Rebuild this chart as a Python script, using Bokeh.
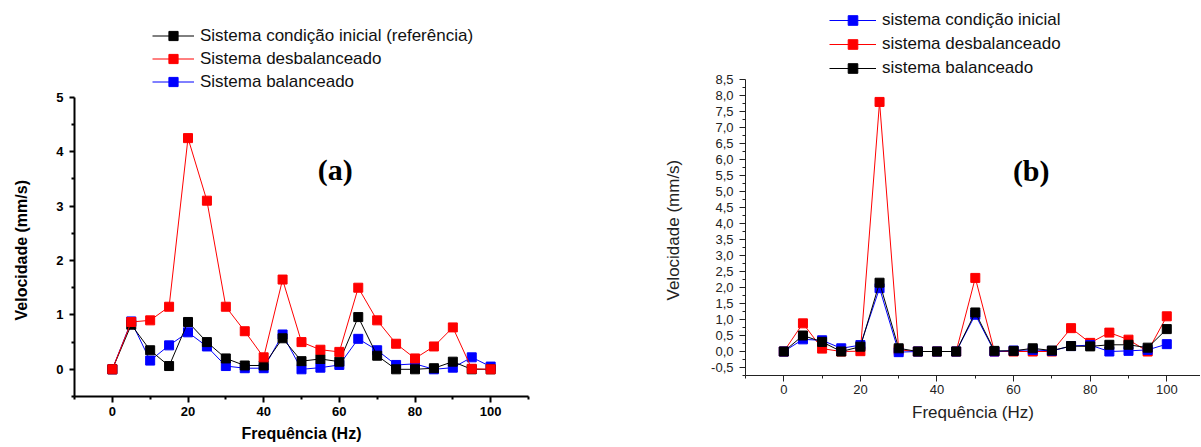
from bokeh.plotting import figure
from bokeh.layouts import row
from bokeh.models import (Range1d, FixedTicker, Legend, LegendItem, Label, Title,
                          CustomJSTickFormatter, LinearAxis)
from bokeh.embed import file_html
from bokeh.resources import INLINE

# ---------------- data ----------------
freq = [0, 5, 10, 15, 20, 25, 30, 35, 40, 45, 50, 55, 60, 65, 70, 75, 80, 85, 90, 95, 100]

# chart (a)
a_ref = [0.00, 0.82, 0.35, 0.06, 0.87, 0.50, 0.20, 0.07, 0.07, 0.57, 0.15,
         0.19, 0.14, 0.96, 0.25, 0.00, 0.00, 0.02, 0.14, 0.00, 0.00]
a_desb = [0.00, 0.87, 0.90, 1.15, 4.25, 3.10, 1.15, 0.70, 0.22, 1.65, 0.50,
          0.36, 0.32, 1.50, 0.90, 0.47, 0.20, 0.42, 0.77, 0.01, 0.00]
a_bal = [0.00, 0.88, 0.16, 0.44, 0.68, 0.42, 0.06, 0.02, 0.02, 0.64, 0.00,
         0.03, 0.08, 0.56, 0.35, 0.08, 0.10, 0.00, 0.03, 0.22, 0.05]

# chart (b)
b_ini = [0.00, 0.38, 0.35, 0.10, 0.20, 1.98, -0.02, 0.00, 0.00, 0.00, 1.15,
         0.00, 0.03, 0.05, 0.02, 0.17, 0.20, 0.00, 0.02, 0.05, 0.23]
b_desb = [0.00, 0.88, 0.09, 0.00, 0.01, 7.80, 0.05, 0.00, 0.00, 0.00, 2.30,
          0.00, 0.00, 0.00, 0.00, 0.73, 0.27, 0.59, 0.37, 0.00, 1.10]
b_bal = [0.00, 0.50, 0.30, 0.00, 0.15, 2.15, 0.10, 0.00, 0.00, 0.00, 1.22,
         0.02, 0.02, 0.10, 0.03, 0.17, 0.16, 0.21, 0.21, 0.12, 0.70]

labels_a = ["Sistema condição inicial (referência)", "Sistema desbalanceado", "Sistema balanceado"]
labels_b = ["sistema condição inicial", "sistema desbalanceado", "sistema balanceado"]

a_x_ticks = [0, 20, 40, 60, 80, 100]
a_x_minor = [-10, 10, 30, 50, 70, 90, 110]
a_y_ticks = [0, 1, 2, 3, 4, 5]
a_y_minor = [-0.5, 0.5, 1.5, 2.5, 3.5, 4.5]

b_x_ticks = [0, 20, 40, 60, 80, 100]
b_x_minor = [-10, 10, 30, 50, 70, 90, 110]
b_y_ticks = [-0.5, 0.0, 0.5, 1.0, 1.5, 2.0, 2.5, 3.0, 3.5, 4.0, 4.5, 5.0, 5.5,
             6.0, 6.5, 7.0, 7.5, 8.0, 8.5]
b_y_minor = [-0.75, -0.25, 0.25, 0.75, 1.25, 1.75, 2.25, 2.75, 3.25, 3.75, 4.25,
             4.75, 5.25, 5.75, 6.25, 6.75, 7.25, 7.75, 8.25]

FONT = "Liberation Sans"
RED = "#FF0000"
BLUE = "#0000FF"
BLACK = "#000000"
H = 446
SHIFT = 14   # left figure is pulled left so its y title can sit near the page edge


def style_axis(ax, ticks, minor, lw, color, font_size, bold, major_out, std):
    ax.ticker = FixedTicker(ticks=ticks, minor_ticks=minor)
    ax.axis_line_width = lw
    ax.axis_line_color = color
    ax.major_tick_line_width = lw
    ax.minor_tick_line_width = lw
    ax.major_tick_line_color = color
    ax.minor_tick_line_color = color
    ax.major_tick_in = 0
    ax.major_tick_out = major_out
    ax.minor_tick_in = 0
    ax.minor_tick_out = 3
    ax.major_label_text_font = FONT
    ax.major_label_text_font_size = font_size
    ax.major_label_text_font_style = "bold" if bold else "normal"
    ax.major_label_text_color = color
    ax.major_label_standoff = std
    ax.axis_label_text_font = FONT
    ax.axis_label_text_font_style = "bold" if bold else "normal"
    ax.axis_label_text_color = color


# ---------------- chart (a) ----------------
pa = figure(width=600 + SHIFT, height=H, output_backend="svg", toolbar_location=None,
            x_range=Range1d(-10, 110), y_range=Range1d(-0.5, 6.78),
            x_axis_type=None, y_axis_type=None,
            min_border_left=73 + SHIFT, min_border_right=72, min_border_top=0,
            min_border_bottom=50, frame_align=False, margin=(0, 0, 0, -SHIFT))
pa.outline_line_color = None
pa.grid.visible = False

xa = LinearAxis(axis_label="Frequência (Hz)")
style_axis(xa, a_x_ticks, a_x_minor, 2, BLACK, "13px", True, 6, 4)
xa.axis_label_text_font_size = "16px"
xa.axis_label_standoff = 6
pa.add_layout(xa, "below")

ya = LinearAxis(bounds=(-0.5, 5))
style_axis(ya, a_y_ticks, a_y_minor, 2, BLACK, "13px", True, 5, 6)
pa.add_layout(ya, "left")
pa.add_layout(Title(text="Velocidade (mm/s)", align="left", offset=76,
                    standoff=48, text_font=FONT, text_font_size="16px",
                    text_font_style="bold", text_color=BLACK), "left")

rb = pa.line(freq, a_bal, color=BLUE, line_width=1)
sb = pa.scatter(freq, a_bal, marker="square", size=9, fill_color=BLUE, line_color=BLUE)
rk = pa.line(freq, a_ref, color=BLACK, line_width=1)
sk = pa.scatter(freq, a_ref, marker="square", size=9, fill_color=BLACK, line_color=BLACK)
rr = pa.line(freq, a_desb, color=RED, line_width=1)
sr = pa.scatter(freq, a_desb, marker="square", size=9, fill_color=RED, line_color=RED)

leg_a = Legend(items=[LegendItem(label=labels_a[0], renderers=[rk, sk]),
                      LegendItem(label=labels_a[1], renderers=[rr, sr]),
                      LegendItem(label=labels_a[2], renderers=[rb, sb])],
               location=(78, 303), padding=0, margin=0, spacing=0,
               glyph_width=42, glyph_height=23, label_height=23,
               label_standoff=6, label_text_font=FONT,
               label_text_font_size="17px", label_text_color="#111111",
               border_line_color=None, background_fill_alpha=0)
pa.add_layout(leg_a)

pa.add_layout(Label(x=58.9, y=3.68, text="(a)", text_font="Liberation Serif",
                    text_font_style="bold", text_font_size="30px",
                    text_align="center", text_baseline="middle", text_color=BLACK))

# ---------------- chart (b) ----------------
AX2 = "#222222"
pb = figure(width=600, height=H, output_backend="svg", toolbar_location=None,
            x_range=Range1d(-10, 108.8), y_range=Range1d(-0.75, 10.97),
            x_axis_type=None, y_axis_type=None,
            min_border_left=145, min_border_right=0, min_border_top=0,
            min_border_bottom=71, frame_align=False)
pb.outline_line_color = None
pb.grid.visible = False

xb = LinearAxis(axis_label="Frequência (Hz)")
style_axis(xb, b_x_ticks, b_x_minor, 1, AX2, "13px", False, 6, 3)
xb.axis_label_text_font_size = "17px"
xb.axis_label_standoff = 6
pb.add_layout(xb, "below")

yb = LinearAxis(bounds=(-0.75, 8.5))
style_axis(yb, b_y_ticks, b_y_minor, 1, AX2, "13px", False, 6, 6)
yb.formatter = CustomJSTickFormatter(code="return tick.toFixed(1).replace('.', ',');")
pb.add_layout(yb, "left")
pb.add_layout(Title(text="Velocidade (mm/s)", align="left", offset=75,
                    standoff=52, text_font=FONT, text_font_size="17px",
                    text_font_style="normal", text_color=AX2), "left")

qr = pb.line(freq, b_desb, color=RED, line_width=1)
tr = pb.scatter(freq, b_desb, marker="square", size=9, fill_color=RED, line_color=RED)
qb = pb.line(freq, b_ini, color=BLUE, line_width=1)
tb = pb.scatter(freq, b_ini, marker="square", size=9, fill_color=BLUE, line_color=BLUE)
qk = pb.line(freq, b_bal, color=BLACK, line_width=1)
tk = pb.scatter(freq, b_bal, marker="square", size=9, fill_color=BLACK, line_color=BLACK)

leg_b = Legend(items=[LegendItem(label=labels_b[0], renderers=[qb, tb]),
                      LegendItem(label=labels_b[1], renderers=[qr, tr]),
                      LegendItem(label=labels_b[2], renderers=[qk, tk])],
               location=(84, 295), padding=0, margin=0, spacing=0,
               glyph_width=47, glyph_height=24, label_height=24,
               label_standoff=6, label_text_font=FONT,
               label_text_font_size="17px", label_text_color="#111111",
               border_line_color=None, background_fill_alpha=0)
pb.add_layout(leg_b)

pb.add_layout(Label(x=64.6, y=5.67, text="(b)", text_font="Liberation Serif",
                    text_font_style="bold", text_font_size="30px",
                    text_align="center", text_baseline="middle", text_color=BLACK))

layout = row(pa, pb)
open("out.html", "w").write(file_html(layout, INLINE))
